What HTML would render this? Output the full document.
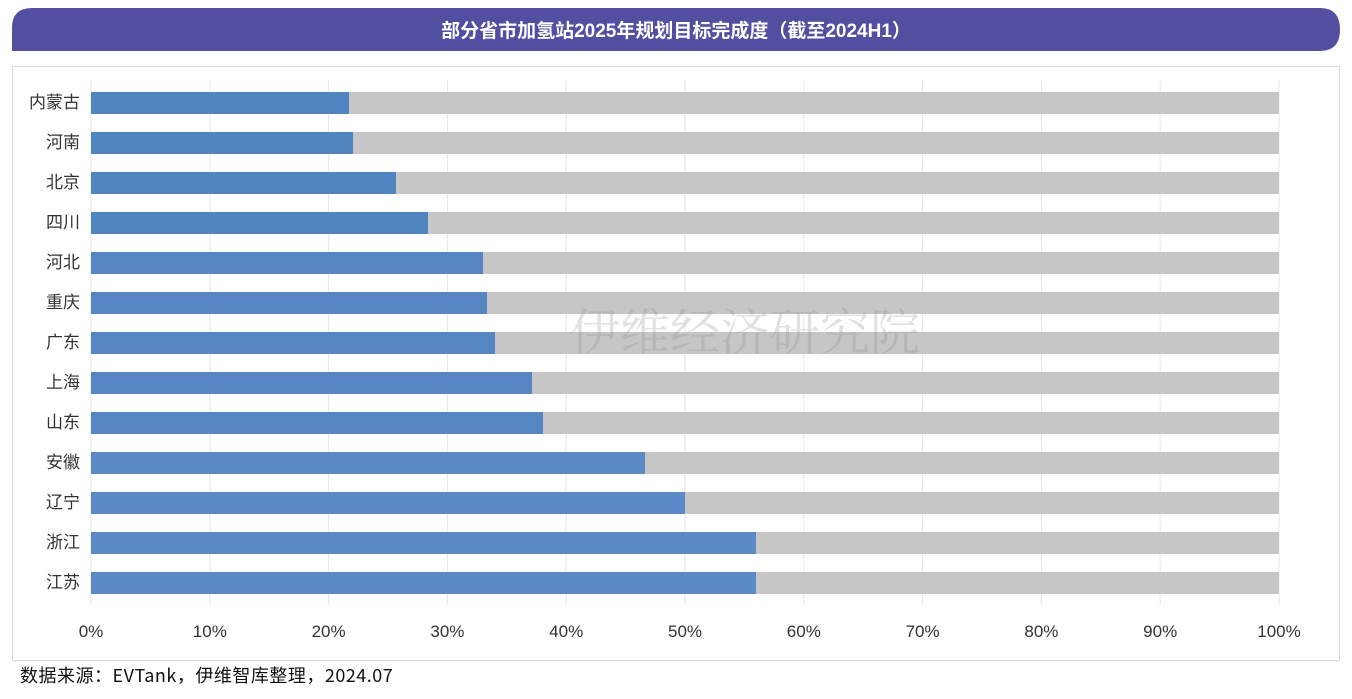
<!DOCTYPE html><html><head><meta charset="utf-8"><style>
body{margin:0;width:1352px;height:694px;background:#fff;overflow:hidden;font-family:"Liberation Sans","Noto Sans CJK SC",sans-serif;}
</style></head><body>
<svg width="1352" height="694" xmlns="http://www.w3.org/2000/svg" font-family="Liberation Sans, Noto Sans CJK SC, sans-serif">
<path d="M12 51 V28 Q12 8 32 8 H1320 Q1340 8 1340 29.5 Q1340 51 1320 51 Z" fill="#524ea0"/>
<text x="676" y="37" text-anchor="middle" fill="#fff" font-size="19" font-weight="bold">部分省市加氢站2025年规划目标完成度（截至2024H1）</text>
<rect x="12.5" y="66.5" width="1327" height="594" fill="#fff" stroke="#d9d9d9"/>
<g stroke="#e6e6e6">
<line x1="91" y1="80" x2="91" y2="605"/><line x1="209.8" y1="80" x2="209.8" y2="605"/><line x1="328.6" y1="80" x2="328.6" y2="605"/><line x1="447.4" y1="80" x2="447.4" y2="605"/><line x1="566.2" y1="80" x2="566.2" y2="605"/><line x1="685" y1="80" x2="685" y2="605"/><line x1="803.8" y1="80" x2="803.8" y2="605"/><line x1="922.6" y1="80" x2="922.6" y2="605"/><line x1="1041.4" y1="80" x2="1041.4" y2="605"/><line x1="1160.2" y1="80" x2="1160.2" y2="605"/><line x1="1279" y1="80" x2="1279" y2="605"/>
</g>
<g font-size="17" fill="#333" text-anchor="middle">
<text x="91" y="637">0%</text><text x="209.8" y="637">10%</text><text x="328.6" y="637">20%</text><text x="447.4" y="637">30%</text><text x="566.2" y="637">40%</text><text x="685" y="637">50%</text><text x="803.8" y="637">60%</text><text x="922.6" y="637">70%</text><text x="1041.4" y="637">80%</text><text x="1160.2" y="637">90%</text><text x="1279" y="637">100%</text>
</g>
<g font-size="17" fill="#333" text-anchor="end">
<text x="80" y="108">内蒙古</text><text x="80" y="148">河南</text><text x="80" y="188">北京</text><text x="80" y="228">四川</text><text x="80" y="268">河北</text><text x="80" y="308">重庆</text><text x="80" y="348">广东</text><text x="80" y="388">上海</text><text x="80" y="428">山东</text><text x="80" y="468">安徽</text><text x="80" y="508">辽宁</text><text x="80" y="548">浙江</text><text x="80" y="588">江苏</text>
</g>
<g>
<rect x="91" y="92" width="1188" height="22" fill="#c6c6c6"/><rect x="91" y="92" width="258" height="22" fill="#4f86c0"/>
<rect x="91" y="132" width="1188" height="22" fill="#c6c6c6"/><rect x="91" y="132" width="262" height="22" fill="#4f86c0"/>
<rect x="91" y="172" width="1188" height="22" fill="#c6c6c6"/><rect x="91" y="172" width="305" height="22" fill="#4f86c0"/>
<rect x="91" y="212" width="1188" height="22" fill="#c6c6c6"/><rect x="91" y="212" width="337" height="22" fill="#4f86c0"/>
<rect x="91" y="252" width="1188" height="22" fill="#c6c6c6"/><rect x="91" y="252" width="392" height="22" fill="#5585c2"/>
<rect x="91" y="292" width="1188" height="22" fill="#c6c6c6"/><rect x="91" y="292" width="396" height="22" fill="#5585c2"/>
<rect x="91" y="332" width="1188" height="22" fill="#c6c6c6"/><rect x="91" y="332" width="404" height="22" fill="#5585c2"/>
<rect x="91" y="372" width="1188" height="22" fill="#c6c6c6"/><rect x="91" y="372" width="441" height="22" fill="#5585c2"/>
<rect x="91" y="412" width="1188" height="22" fill="#c6c6c6"/><rect x="91" y="412" width="452" height="22" fill="#5585c2"/>
<rect x="91" y="452" width="1188" height="22" fill="#c6c6c6"/><rect x="91" y="452" width="554" height="22" fill="#5b8ac6"/>
<rect x="91" y="492" width="1188" height="22" fill="#c6c6c6"/><rect x="91" y="492" width="594" height="22" fill="#5b8ac6"/>
<rect x="91" y="532" width="1188" height="22" fill="#c6c6c6"/><rect x="91" y="532" width="665" height="22" fill="#5b8ac6"/>
<rect x="91" y="572" width="1188" height="22" fill="#c6c6c6"/><rect x="91" y="572" width="665" height="22" fill="#5b8ac6"/>
</g>
<text x="570" y="350" font-size="50" fill="#888" fill-opacity="0.25" font-family="Noto Serif CJK SC, serif">伊维经济研究院</text>
<text x="20" y="682" font-size="18" fill="#111" font-family="Noto Sans CJK SC, sans-serif" letter-spacing="0.5">数据来源：EVTank，伊维智库整理，2024.07</text>
</svg>
</body></html>
